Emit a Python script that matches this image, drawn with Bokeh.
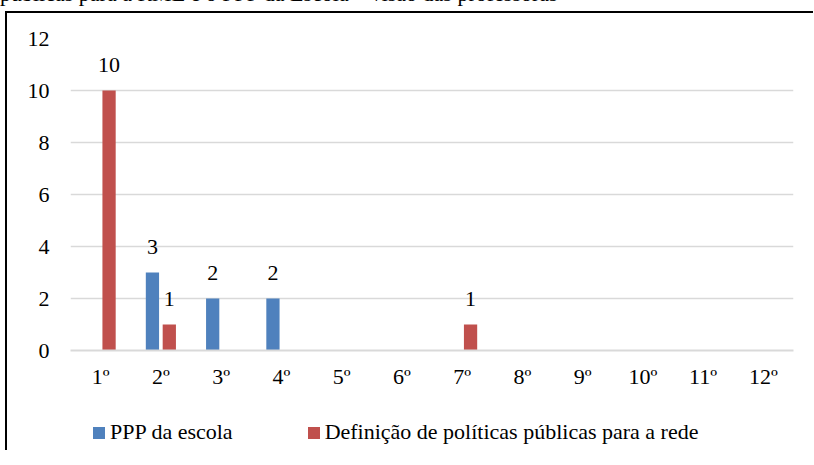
from bokeh.plotting import figure
from bokeh.models import (ColumnDataSource, FactorRange, Range1d, Legend, LegendItem,
                          FixedTicker, Div)
from bokeh.layouts import column
from bokeh.transform import dodge
from bokeh.core.properties import value
from bokeh.embed import file_html
from bokeh.resources import INLINE

caption = "públicas para a RME e o PPP da Escola – visão das professoras"
categories = ["1º", "2º", "3º", "4º", "5º", "6º", "7º", "8º", "9º", "10º", "11º", "12º"]
ppp_escola = [0, 3, 2, 2, 0, 0, 0, 0, 0, 0, 0, 0]
definicao = [10, 1, 0, 0, 0, 0, 1, 0, 0, 0, 0, 0]
series_names = ["PPP da escola", "Definição de políticas públicas para a rede"]
y_ticks = [0, 2, 4, 6, 8, 10, 12]

BLUE = "#4F81BD"
RED = "#C0504D"
GRID = "#D9D9D9"
FONT = "Liberation Serif"
OFF = 0.14
W = 0.22

src = ColumnDataSource(dict(cat=categories, ppp=ppp_escola, defi=definicao))

p = figure(x_range=FactorRange(*categories, range_padding=0), y_range=Range1d(0, 12),
           width=806, height=387, output_backend="svg", toolbar_location=None,
           min_border_left=63, min_border_top=25, min_border_right=20, min_border_bottom=50)

p.vbar(x=dodge("cat", -OFF, range=p.x_range), top="ppp", width=W, source=src,
       fill_color=BLUE, line_color=None)
p.vbar(x=dodge("cat", OFF, range=p.x_range), top="defi", width=W, source=src,
       fill_color=RED, line_color=None)

lab1 = ColumnDataSource(dict(x=[c for c, v in zip(categories, ppp_escola) if v],
                             y=[v for v in ppp_escola if v],
                             t=[str(v) for v in ppp_escola if v]))
lab2 = ColumnDataSource(dict(x=[c for c, v in zip(categories, definicao) if v],
                             y=[v for v in definicao if v],
                             t=[str(v) for v in definicao if v]))
for s, off in ((lab1, -OFF), (lab2, OFF)):
    p.text(x=dodge("x", off, range=p.x_range), y="y", text="t", source=s,
           text_align="center", text_baseline="alphabetic", y_offset=-26,
           text_font=value(FONT), text_font_size="22px", text_color="#000000")

p.xaxis.axis_line_color = GRID
p.xaxis.axis_line_width = 2
p.xaxis.major_tick_line_color = None
p.xaxis.major_tick_out = 0
p.xaxis.major_tick_in = 0
p.xaxis.minor_tick_line_color = None
p.xaxis.major_label_text_font = FONT
p.xaxis.major_label_text_font_size = "22px"
p.xaxis.major_label_text_color = "#000000"
p.xaxis.major_label_standoff = 13

p.yaxis.ticker = FixedTicker(ticks=y_ticks)
p.yaxis.axis_line_color = None
p.yaxis.major_tick_line_color = None
p.yaxis.major_tick_out = 0
p.yaxis.major_tick_in = 0
p.yaxis.minor_tick_line_color = None
p.yaxis.major_label_text_font = FONT
p.yaxis.major_label_text_font_size = "22px"
p.yaxis.major_label_text_color = "#000000"
p.yaxis.major_label_standoff = 21

p.xgrid.grid_line_color = None
p.ygrid.grid_line_color = GRID
p.ygrid.grid_line_width = 1.5
p.outline_line_color = None

# legend strip below the chart (keys use zero-height placeholder bars)
lf = figure(width=806, height=50, x_range=Range1d(0, 1), y_range=Range1d(0, 1),
            x_axis_location=None, y_axis_location=None, output_backend="svg",
            toolbar_location=None, min_border=0, outline_line_color=None)
lf.grid.visible = False
key_src = ColumnDataSource(dict(x=[0.5], top=[0]))
k1 = lf.vbar(x="x", top="top", bottom=0, width=0.1, source=key_src,
             fill_color=BLUE, line_color=None)
k2 = lf.vbar(x="x", top="top", bottom=0, width=0.1, source=key_src,
             fill_color=RED, line_color=None)
legend = Legend(items=[LegendItem(label=series_names[0], renderers=[k1]),
                       LegendItem(label=series_names[1], renderers=[k2])],
                orientation="horizontal", location=(21, 5),
                label_text_font="'Liberation Serif'", label_text_font_size="22px",
                label_text_color="#000000", label_height=24,
                glyph_width=15, glyph_height=15, label_standoff=4, spacing=73,
                border_line_color=None, background_fill_alpha=0, margin=0, padding=0)
lf.add_layout(legend, "center")

cap = Div(text=('<div style="position:relative;top:-22px;left:-5px;font-family:\'Liberation Serif\';'
                'font-size:22px;line-height:22px;white-space:nowrap;color:#000">'
                + caption + '</div>'),
          width=806, height=1, styles={"overflow": "visible"})

body = column(p, lf, spacing=0,
              styles={"border-left": "2px solid #000000", "border-top": "2px solid #000000",
                      "margin-left": "5px"})
root = column(cap, body, spacing=0)
open("out.html", "w").write(file_html(root, INLINE))
